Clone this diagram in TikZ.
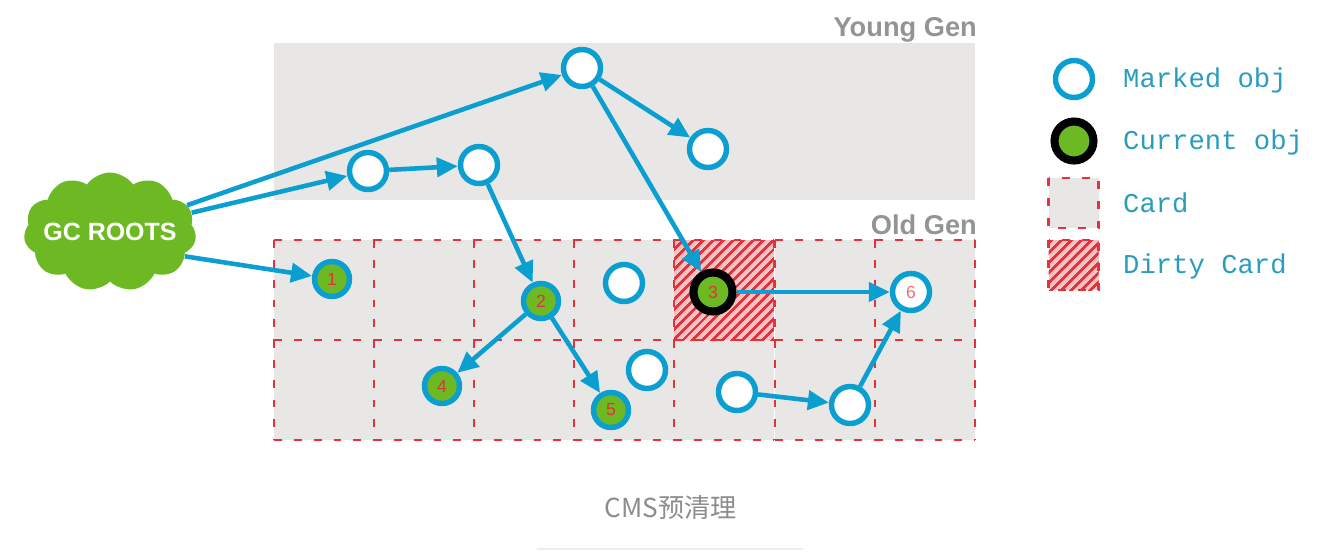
\documentclass[tikz,border=0pt]{standalone}
\usepackage{fontspec}
\setmainfont{Liberation Sans}
\setmonofont{Liberation Mono}
\newfontfamily\cjk{Noto Sans CJK SC}
\usetikzlibrary{arrows.meta, shapes.symbols, patterns.meta}
\definecolor{gcblue}{HTML}{0A9FD0}
\definecolor{gcgreen}{HTML}{6CB924}
\definecolor{gcred}{HTML}{E2333C}
\definecolor{gcgrey}{HTML}{E8E7E5}
\definecolor{gctext}{HTML}{2A9DBE}

\begin{document}
\begin{tikzpicture}[x=0.02cm, y=-0.02cm,
    marked/.style={circle, draw=gcblue, fill=white, line width=3.1pt, minimum size=0.74cm, inner sep=0pt, text=gcred!70!white, font=\normalsize\rmfamily},
    reached/.style={marked, fill=gcgreen, text=gcred, minimum size=0.7cm},
    current/.style={circle, draw=black, fill=gcgreen, line width=4.6pt, minimum size=0.78cm, inner sep=0pt, text=gcred, font=\normalsize\rmfamily},
    card/.style={rectangle, fill=gcgrey, minimum size=2cm, outer sep=0pt},
    cardline/.style={draw=gcred, line width=1.2pt, dash pattern=on 4.5pt off 6.8pt},
    dirty/.style={rectangle, minimum size=2cm, outer sep=0pt, postaction={fill=gcred!30!white}, postaction={pattern={Lines[angle=45, distance=4pt, line width=1.6pt]}, pattern color=gcred}},
    legendtext/.style={anchor=west, text=gctext, font=\ttfamily\fontsize{15.5}{18}\selectfont},
    gentitle/.style={anchor=east, text=black!42, font=\bfseries\fontsize{15.5}{18}\selectfont},
    arrow/.style={-{Triangle[length=0.42cm, width=0.38cm]}, draw=gcblue, line width=2.6pt}]
    \useasboundingbox (0,0) rectangle (1336,556);
    % Areas
    \node[rectangle, fill=gcgrey, minimum width=14.02cm, minimum height=3.14cm, outer sep=0pt] (young) at (624.5,121.5) {};
    \foreach \col/\x in {0/324,1/424,2/524,3/624,4/724,5/825,6/925}
        \foreach \row/\y in {0/290,1/390}
            \node[card] (card\col\row) at (\x,\y) {};
    \node[dirty] (dirtycard) at (724,290) {};
    \foreach \col in {0,...,6}
        \foreach \row in {0,1} {
            \draw[cardline] (card\col\row.north west) -- (card\col\row.north east);
            \draw[cardline] (card\col\row.north west) -- (card\col\row.south west);
        }
    \foreach \col in {0,...,6}
        \draw[cardline] (card\col1.south west) -- (card\col1.south east);
    \foreach \row in {0,1}
        \draw[cardline] (card6\row.north east) -- (card6\row.south east);
    \draw[cardline] (dirtycard.north east) -- (dirtycard.south east);
    \node[gentitle] (younglabel) at (983,30) {Young Gen};
    \node[gentitle] (oldlabel) at (983,224.5) {Old Gen};

    % Nodes
    \node[cloud, cloud puffs=11, cloud puff arc=110, aspect=1.45, fill=gcgreen, text=white, inner sep=0pt, minimum width=3.45cm, minimum height=2.38cm, font=\bfseries\fontsize{14.2}{16}\selectfont] (roots) at (110,232) {\makebox[0pt]{GC ROOTS}};
    \node[marked] (ya) at (582,68) {};
    \node[marked] (yb) at (708,149) {};
    \node[marked] (yc) at (368,171) {};
    \node[marked] (yd) at (479,165) {};
    \node[reached] (one) at (332,279) {1};
    \node[reached] (two) at (541,301) {2};
    \node[marked] (oa) at (624,283) {};
    \node[current] (three) at (713,292) {3};
    \node[marked] (six) at (911,292) {6};
    \node[reached] (four) at (442,386) {4};
    \node[reached] (five) at (611,410) {5};
    \node[marked] (ob) at (647,370) {};
    \node[marked] (oc) at (737,392) {};
    \node[marked] (od) at (850,405) {};

    % Arrows
    \draw[arrow] (roots) -- (ya);
    \draw[arrow] (roots) -- (yc);
    \draw[arrow] (roots.-18) -- (one);
    \draw[arrow] (yc) -- (yd);
    \draw[arrow] (ya) -- (yb);
    \draw[arrow] (ya) -- (three);
    \draw[arrow] (yd) -- (two);
    \draw[arrow] (two) -- (four);
    \draw[arrow] (two) -- (five);
    \draw[arrow] (three) -- (six);
    \draw[arrow] (oc) -- (od);
    \draw[arrow] (od) -- (six);

    % Legend
    \node[marked] (keymarked) at (1074,79) {};
    \node[current] (keycurrent) at (1074,141) {};
    \node[card, minimum size=1cm] (keycard) at (1073.5,203) {};
    \node[dirty, minimum size=1cm] (keydirty) at (1073.5,265) {};
    \draw[cardline] (keycard.north west) rectangle (keycard.south east);
    \draw[cardline] (keydirty.north west) rectangle (keydirty.south east);
    \node[legendtext] (textmarked) at (1117,80) {Marked obj};
    \node[legendtext] (textcurrent) at (1117,142) {Current obj};
    \node[legendtext] (textcard) at (1117,203) {Card};
    \node[legendtext] (textdirty) at (1117,266) {Dirty Card};

    % Caption
    \node[text=black!45, font=\cjk\fontsize{14.9}{18}\selectfont] (caption) at (671,508) {CMS预清理};
    \fill[black!7] (537,548) rectangle (803,550);
\end{tikzpicture}
\end{document}
